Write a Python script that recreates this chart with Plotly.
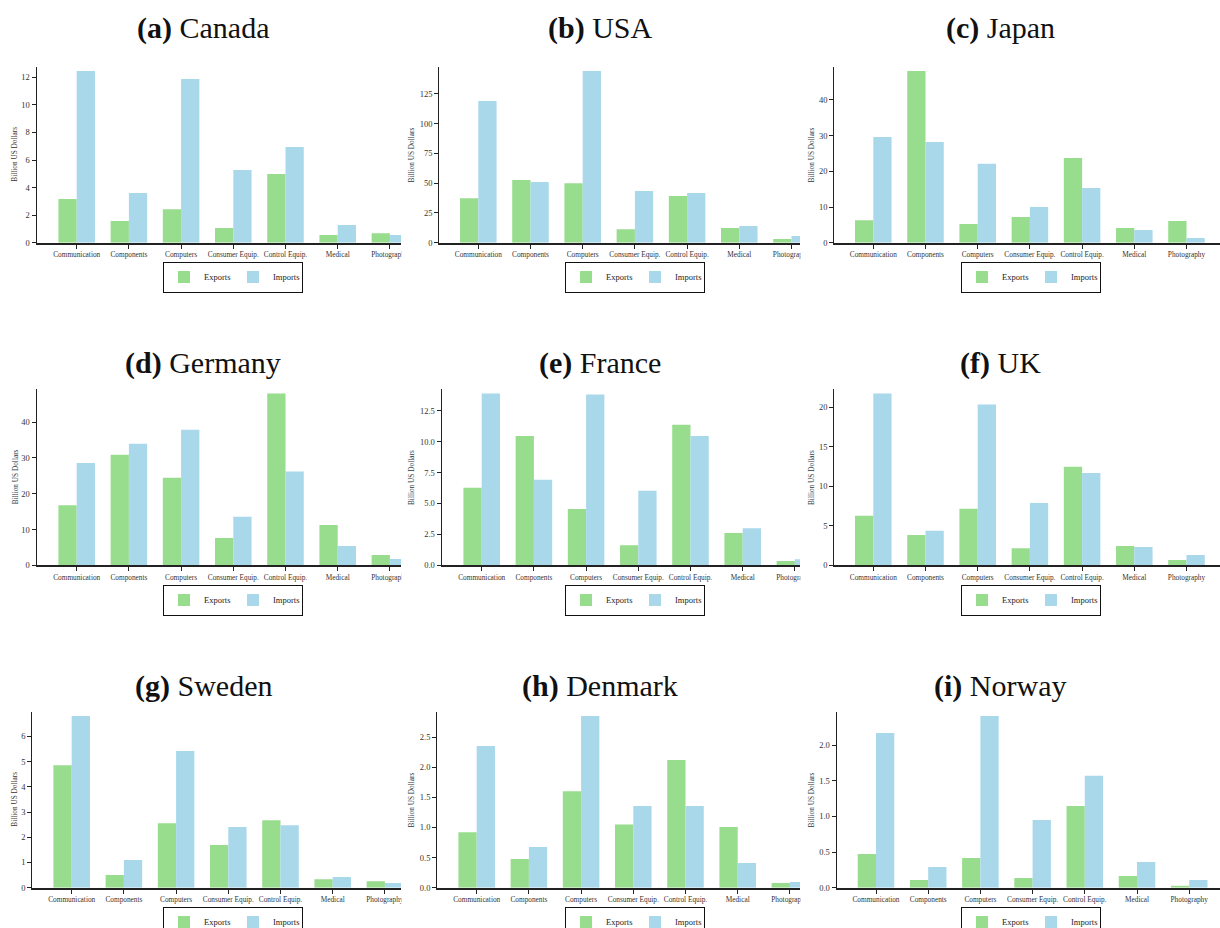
import plotly.graph_objects as go

categories = ["Communication", "Components", "Computers", "Consumer Equip.",
              "Control Equip.", "Medical", "Photography"]

panel_letters = ["a", "b", "c", "d", "e", "f", "g", "h", "i"]
countries = ["Canada", "USA", "Japan", "Germany", "France", "UK", "Sweden", "Denmark", "Norway"]

canada_exports = [3.17, 1.57, 2.42, 1.07, 4.99, 0.56, 0.68]
canada_imports = [12.46, 3.60, 11.88, 5.28, 6.95, 1.28, 0.56]
usa_exports = [37.3, 52.7, 49.9, 11.2, 39.3, 12.4, 3.1]
usa_imports = [119.0, 51.0, 144.3, 43.4, 41.8, 14.0, 5.6]
japan_exports = [6.27, 48.1, 5.24, 7.2, 23.7, 4.1, 6.08]
japan_imports = [29.6, 28.2, 22.1, 10.0, 15.3, 3.56, 1.3]
germany_exports = [16.8, 30.9, 24.5, 7.66, 48.0, 11.3, 2.9]
germany_imports = [28.6, 34.0, 37.9, 13.55, 26.2, 5.4, 1.78]
france_exports = [6.26, 10.45, 4.56, 1.62, 11.37, 2.62, 0.35]
france_imports = [13.88, 6.91, 13.8, 6.02, 10.45, 3.0, 0.49]
uk_exports = [6.26, 3.85, 7.15, 2.16, 12.47, 2.45, 0.68]
uk_imports = [21.73, 4.36, 20.34, 7.9, 11.67, 2.33, 1.31]
sweden_exports = [4.86, 0.50, 2.56, 1.69, 2.68, 0.34, 0.26]
sweden_imports = [6.81, 1.10, 5.42, 2.41, 2.48, 0.42, 0.185]
denmark_exports = [0.92, 0.476, 1.60, 1.05, 2.12, 1.007, 0.077]
denmark_imports = [2.35, 0.675, 2.85, 1.355, 1.355, 0.41, 0.094]
norway_exports = [0.473, 0.108, 0.417, 0.136, 1.147, 0.164, 0.023]
norway_imports = [2.17, 0.29, 2.41, 0.95, 1.57, 0.36, 0.108]

exports = [canada_exports, usa_exports, japan_exports, germany_exports, france_exports,
           uk_exports, sweden_exports, denmark_exports, norway_exports]
imports = [canada_imports, usa_imports, japan_imports, germany_imports, france_imports,
           uk_imports, sweden_imports, denmark_imports, norway_imports]

y_dticks = [2, 25, 10, 10, 2.5, 5, 1, 0.5, 0.5]
y_formats = ["d", "d", "d", "d", ".1f", "d", "d", ".1f", ".1f"]

W, H = 1220, 928
EXP_COLOR = "#98dc8d"
IMP_COLOR = "#a8d8ea"
FONT = "Liberation Serif"
SPACING = 52.2

# panel geometry in pixels: left, right, top, bottom, first-category x
geom = [
    (36.7, 401, 66.7, 242.7, 76.7),
    (439.3, 800, 66.7, 242.7, 478.3),
    (834.3, 1220, 66.7, 242.7, 873.3),
    (36.7, 401, 389.3, 565.3, 76.7),
    (441.7, 800, 389.3, 565.3, 481.7),
    (834.3, 1220, 389.3, 565.3, 873.3),
    (32.3, 401, 711.7, 887.7, 71.7),
    (437.3, 800, 711.7, 887.7, 476.7),
    (836.7, 1220, 711.7, 887.7, 876.0),
]
col_centers = [203, 600, 1000]
legend_centers = [233, 635, 1031]
ylabel_x = [15, 411.7, 811.7]
title_y = [28, 363, 686]
legend_y = [277, 600, 922]

fig = go.Figure()
layout = dict(
    autosize=True, margin=dict(l=0, r=0, t=0, b=0, autoexpand=False),
    paper_bgcolor="white", plot_bgcolor="white",
    barmode="group", bargap=0.3, bargroupgap=0.0,
    font=dict(family=FONT, color="#222"),
    annotations=[], shapes=[],
)

for i in range(9):
    r, c = divmod(i, 3)
    left, right, top, bottom, x0 = geom[i]
    ax = "" if i == 0 else str(i + 1)
    xname, yname = "x" + ax, "y" + ax
    leg = "legend" if i == 0 else "legend" + str(i + 1)
    xpos = list(range(len(categories)))
    fig.add_trace(go.Bar(x=xpos, y=exports[i], name="Exports", marker_color=EXP_COLOR,
                         marker_line_width=0, xaxis=xname, yaxis=yname, legend=leg,
                         offsetgroup="e"))
    fig.add_trace(go.Bar(x=xpos, y=imports[i], name="Imports", marker_color=IMP_COLOR,
                         marker_line_width=0, xaxis=xname, yaxis=yname, legend=leg,
                         offsetgroup="i"))
    ymax = max(max(exports[i]), max(imports[i])) * 1.025
    layout["xaxis" + ax] = dict(
        domain=[left / W, right / W],
        range=[(left - x0) / SPACING, (right - x0) / SPACING],
        anchor=yname, tickmode="array", tickvals=xpos, ticktext=categories,
        tickangle=0, tickfont=dict(size=7.3, family=FONT, color="#333"),
        ticks="outside", ticklen=4, tickwidth=1, tickcolor="#222",
        showline=True, linewidth=2, linecolor="#222", showgrid=False,
        zeroline=False, fixedrange=True,
    )
    layout["yaxis" + ax] = dict(
        domain=[1 - bottom / H, 1 - top / H],
        range=[0, ymax], anchor=xname,
        dtick=y_dticks[i], tick0=0, tickformat=y_formats[i],
        tickfont=dict(size=8.5, family=FONT, color="#333"),
        ticks="outside", ticklen=4, tickwidth=1, tickcolor="#222",
        showline=True, linewidth=1.3, linecolor="#222", showgrid=False,
        zeroline=False, fixedrange=True,
    )
    layout[leg] = dict(
        x=legend_centers[c] / W, y=1 - legend_y[r] / H, xanchor="center", yanchor="middle",
        orientation="h", bordercolor="#111", borderwidth=1, bgcolor="white",
        font=dict(size=8.5, family=FONT, color="#222"), itemwidth=30,
        entrywidth=24, entrywidthmode="pixels", tracegroupgap=0,
    )
    layout["annotations"].append(dict(
        text="<b>(" + panel_letters[i] + ")</b> " + countries[i],
        x=col_centers[c] / W, y=1 - title_y[r] / H, xref="paper", yref="paper",
        showarrow=False, xanchor="center", yanchor="middle",
        font=dict(size=30, family=FONT, color="#111"),
    ))
    layout["annotations"].append(dict(
        text="Billion US Dollars", textangle=-90,
        x=ylabel_x[c] / W, y=1 - (top + bottom) / 2 / H, xref="paper", yref="paper",
        showarrow=False, xanchor="center", yanchor="middle",
        font=dict(size=7.3, family=FONT, color="#333"),
    ))
    if c < 2:
        # the next panel covers the overflowing last tick label
        layout["shapes"].append(dict(
            type="rect", xref="paper", yref="paper", layer="above",
            x0=(right + 0.5) / W, x1=(right + 28) / W,
            y0=1 - (bottom + 18) / H, y1=1 - (bottom + 4) / H,
            fillcolor="white", line=dict(width=0),
        ))

fig.update_layout(**layout)
post = ("document.documentElement.style.overflow='hidden';"
        "document.body.style.margin='0';"
        "document.body.style.padding='0';"
        "document.body.style.overflow='hidden';")
fig.write_html("out.html", post_script=post, default_width="100vw", default_height="100vh",
               config={"displayModeBar": False, "responsive": True})
